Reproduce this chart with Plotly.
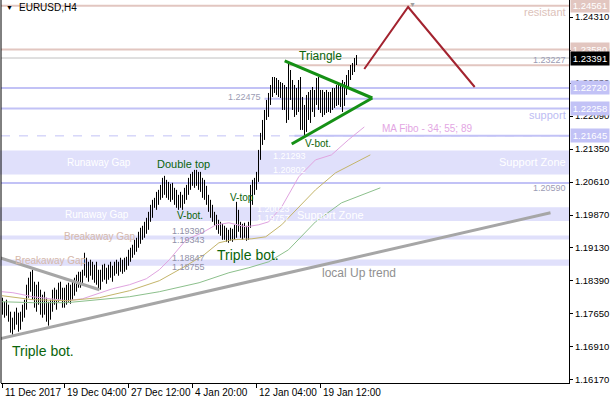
import plotly.graph_objects as go

# ---------------- data (EURUSD H4) ----------------
opens = [1.17858,1.17746,1.17858,1.17701,1.17567,1.17343,1.17477,1.17634,1.17522,1.17410,
1.17612,1.17746,1.17858,1.18194,1.18306,1.18418,1.18082,1.17970,1.18149,1.17970,
1.17746,1.17970,1.17791,1.17634,1.17746,1.17858,1.18082,1.17970,1.18060,1.18194,
1.18082,1.17970,1.18082,1.18194,1.18060,1.18194,1.18284,1.18373,1.18463,1.18373,
1.18508,1.18597,1.18821,1.18597,1.18687,1.18597,1.18530,1.18642,1.18418,1.18306,
1.18530,1.18642,1.18508,1.18597,1.18687,1.18552,1.18642,1.18732,1.18642,1.18754,
1.18687,1.18776,1.18821,1.18866,1.18978,1.19045,1.19135,1.19202,1.19269,1.19404,
1.19493,1.19538,1.19628,1.19717,1.19874,1.19986,1.20098,1.20210,1.20300,1.20344,
1.20479,1.20613,1.20434,1.20524,1.20322,1.20434,1.20300,1.20210,1.20120,1.20210,
1.20098,1.20255,1.20389,1.20434,1.20613,1.20703,1.20658,1.20748,1.20613,1.20703,
1.20479,1.20568,1.20322,1.20210,1.20031,1.19896,1.19807,1.19717,1.19628,1.19538,
1.19583,1.19426,1.19493,1.19359,1.19448,1.19381,1.19493,1.19426,1.19874,1.19583,
1.19493,1.19583,1.19448,1.19538,1.19650,1.20322,1.20546,1.20613,1.20703,1.21218,
1.21554,1.21890,1.22114,1.22338,1.22495,1.22674,1.22853,1.22719,1.22786,1.22629,
1.22764,1.22338,1.22629,1.22047,1.22898,1.22562,1.22450,1.22226,1.22562,1.22338,
1.22002,1.22226,1.21823,1.22450,1.22114,1.22495,1.22338,1.22562,1.22786,1.22338,
1.22562,1.22226,1.22495,1.22271,1.22540,1.22338,1.22562,1.22405,1.22629,1.22495,
1.22674,1.22450,1.22719,1.22898,1.23034,1.23122,1.23206,1.23301]
highs = [1.18015,1.17925,1.17970,1.17858,1.17701,1.17567,1.17701,1.17791,1.17679,1.17701,
1.17858,1.17970,1.18306,1.18463,1.18597,1.18642,1.18373,1.18306,1.18373,1.18194,
1.18082,1.18149,1.18015,1.17925,1.17970,1.18194,1.18239,1.18194,1.18351,1.18373,
1.18239,1.18239,1.18306,1.18351,1.18306,1.18373,1.18463,1.18530,1.18597,1.18597,
1.18642,1.19023,1.18911,1.18821,1.18866,1.18821,1.18754,1.18821,1.18642,1.18642,
1.18754,1.18776,1.18687,1.18754,1.18821,1.18732,1.18821,1.18866,1.18821,1.18911,
1.18866,1.18911,1.18933,1.19090,1.19135,1.19202,1.19314,1.19359,1.19493,1.19583,
1.19628,1.19717,1.19807,1.19941,1.20098,1.20210,1.20255,1.20389,1.20434,1.20546,
1.20703,1.20748,1.20658,1.20613,1.20568,1.20591,1.20479,1.20434,1.20322,1.20389,
1.20322,1.20479,1.20546,1.20703,1.20792,1.20837,1.20882,1.20882,1.20837,1.20837,
1.20703,1.20658,1.20524,1.20322,1.20210,1.20098,1.19941,1.19874,1.19762,1.19717,
1.19672,1.19628,1.19583,1.19538,1.19583,1.19560,1.19650,1.20165,1.19986,1.19717,
1.19672,1.19695,1.19628,1.19717,1.20546,1.20658,1.20703,1.20837,1.21330,1.21711,
1.22002,1.22226,1.22450,1.22607,1.22786,1.22965,1.22965,1.22943,1.22898,1.22853,
1.22831,1.22786,1.22741,1.23301,1.23122,1.22898,1.22786,1.22719,1.22898,1.22965,
1.22517,1.22338,1.22562,1.22629,1.22674,1.22741,1.22674,1.22943,1.22965,1.22674,
1.22674,1.22629,1.22674,1.22629,1.22629,1.22719,1.22719,1.22786,1.22831,1.22786,
1.22898,1.22853,1.23010,1.23122,1.23234,1.23279,1.23391,1.23458]
lows = [1.17634,1.17567,1.17612,1.17477,1.17231,1.17186,1.17298,1.17410,1.17253,1.17298,
1.17477,1.17567,1.17746,1.18015,1.18149,1.17970,1.17791,1.17701,1.17858,1.17634,
1.17567,1.17634,1.17477,1.17388,1.17522,1.17701,1.17858,1.17746,1.17925,1.17970,
1.17791,1.17791,1.17858,1.17925,1.17880,1.17970,1.18060,1.18149,1.18239,1.18239,
1.18328,1.18508,1.18463,1.18373,1.18508,1.18418,1.18351,1.18306,1.18194,1.18194,
1.18373,1.18418,1.18328,1.18418,1.18463,1.18373,1.18508,1.18552,1.18508,1.18597,
1.18552,1.18597,1.18642,1.18732,1.18821,1.18911,1.18978,1.19045,1.19135,1.19224,
1.19314,1.19359,1.19448,1.19538,1.19717,1.19807,1.20031,1.19986,1.20098,1.20210,
1.20255,1.20322,1.20255,1.20210,1.20165,1.20210,1.20098,1.20031,1.19986,1.20031,
1.19986,1.20120,1.20210,1.20322,1.20434,1.20524,1.20479,1.20524,1.20434,1.20389,
1.20255,1.20210,1.20098,1.19941,1.19807,1.19717,1.19628,1.19538,1.19448,1.19404,
1.19314,1.19314,1.19269,1.19247,1.19292,1.19269,1.19314,1.19359,1.19493,1.19359,
1.19314,1.19359,1.19292,1.19314,1.19583,1.20098,1.20322,1.20434,1.20613,1.21106,
1.21442,1.21554,1.22002,1.22069,1.22338,1.22517,1.22607,1.22562,1.22517,1.22495,
1.22226,1.22226,1.21935,1.22002,1.22450,1.22226,1.22069,1.22114,1.22181,1.21778,
1.21778,1.21666,1.21733,1.22002,1.21935,1.22181,1.22069,1.22338,1.22226,1.22159,
1.22069,1.22114,1.22159,1.22181,1.22159,1.22226,1.22271,1.22316,1.22338,1.22293,
1.22181,1.22316,1.22562,1.22741,1.22898,1.23010,1.23077,1.23234]
closes = [1.17746,1.17858,1.17701,1.17567,1.17343,1.17477,1.17634,1.17522,1.17410,1.17612,
1.17746,1.17858,1.18194,1.18306,1.18418,1.18082,1.17970,1.18149,1.17970,1.17746,
1.17970,1.17791,1.17634,1.17746,1.17858,1.18082,1.17970,1.18060,1.18194,1.18082,
1.17970,1.18082,1.18194,1.18060,1.18194,1.18284,1.18373,1.18463,1.18373,1.18508,
1.18597,1.18821,1.18597,1.18687,1.18597,1.18530,1.18642,1.18418,1.18306,1.18530,
1.18642,1.18508,1.18597,1.18687,1.18552,1.18642,1.18732,1.18642,1.18754,1.18687,
1.18776,1.18821,1.18866,1.18978,1.19045,1.19135,1.19202,1.19269,1.19404,1.19493,
1.19538,1.19628,1.19717,1.19874,1.19986,1.20098,1.20210,1.20300,1.20344,1.20479,
1.20613,1.20434,1.20524,1.20322,1.20434,1.20300,1.20210,1.20120,1.20210,1.20098,
1.20255,1.20389,1.20434,1.20613,1.20703,1.20658,1.20748,1.20613,1.20703,1.20479,
1.20568,1.20322,1.20210,1.20031,1.19896,1.19807,1.19717,1.19628,1.19538,1.19583,
1.19426,1.19493,1.19359,1.19448,1.19381,1.19493,1.19426,1.19874,1.19583,1.19493,
1.19583,1.19448,1.19538,1.19650,1.20322,1.20546,1.20613,1.20703,1.21218,1.21554,
1.21890,1.22114,1.22338,1.22495,1.22674,1.22853,1.22719,1.22786,1.22629,1.22764,
1.22338,1.22629,1.22047,1.22898,1.22562,1.22450,1.22226,1.22562,1.22338,1.22002,
1.22226,1.21823,1.22450,1.22114,1.22495,1.22338,1.22562,1.22786,1.22338,1.22562,
1.22226,1.22495,1.22271,1.22540,1.22338,1.22562,1.22405,1.22629,1.22495,1.22674,
1.22450,1.22719,1.22898,1.23034,1.23122,1.23206,1.23301,1.23391]
bar_index = list(range(len(closes)))

# date labels (bar index of each label)
date_ticks = [0, 31, 63, 95, 127, 159]
date_labels = ["11 Dec 2017", "19 Dec 04:00", "27 Dec 12:00", "4 Jan 20:00", "12 Jan 04:00", "19 Jan 12:00"]

# price axis
price_ticks = [1.16170, 1.16910, 1.17650, 1.18390, 1.19130, 1.19870, 1.20610,
               1.21350, 1.22090, 1.22830, 1.23570, 1.24310]

# moving averages (34, 55, 89): bar index / price
ma34_x = [-0.25, 5.2, 15.2, 20.2, 32.1, 40.1, 48.5, 55.0, 63.5, 71.9, 78.4, 83.4, 91.8, 99.8,
          106.8, 113.2, 121.7, 128.1, 133.1, 139.6, 148.1, 156.5, 164.5, 172.9, 180.9]
ma34_y = [1.18149, 1.18127, 1.18037, 1.18015, 1.17948, 1.17992, 1.18127, 1.18216, 1.18306, 1.18440,
          1.18642, 1.18866, 1.19314, 1.19471, 1.19650, 1.19695, 1.19605, 1.19650, 1.19717, 1.20053,
          1.20725, 1.21106, 1.21218, 1.21554, 1.21845]
ma55_x = [-0.25, 15.2, 32.1, 48.5, 63.5, 78.4, 91.8, 100.8, 108.2, 114.7, 124.7, 131.6, 139.6,
          148.1, 156.5, 166.5, 183.9]
ma55_y = [1.18060, 1.17970, 1.17948, 1.18015, 1.18172, 1.18396, 1.18732, 1.18978, 1.19247, 1.19314,
          1.19336, 1.19381, 1.19650, 1.20053, 1.20434, 1.20815, 1.21218]
ma89_x = [-0.25, 15.2, 32.1, 48.5, 63.5, 78.4, 98.3, 113.2, 123.2, 133.1, 143.0, 156.5, 169.5, 188.9]
ma89_y = [1.17925, 1.17903, 1.17903, 1.17970, 1.18037, 1.18149, 1.18351, 1.18575, 1.18687, 1.18821,
          1.19090, 1.19717, 1.20143, 1.20479]

# horizontal levels
resist_levels = [1.24561, 1.23580]
support_levels = [1.22720, 1.22258, 1.20590]
bid_price = 1.23391
fibo_level = 1.21645
tri_high_level = 1.23227
tri_mid_level = 1.22475
zones = [(1.21293, 1.20802), (1.20023, 1.19757), (1.19390, 1.19343), (1.18847, 1.18755)]

# trend lines (bar index, price)
uptrend = [(-1.24, 1.17096), (274.0, 1.19919)]
downtrend = [(-1.24, 1.18911), (48.5, 1.18194)]
tri_upper = [(141.1, 1.23324), (184.9, 1.22494)]
tri_lower = [(144.6, 1.21463), (184.9, 1.22494)]
zigzag_x = [180.9, 202.8, 236.1]
zigzag_y = [1.23145, 1.24535, 1.22741]

# ---------------- figure ----------------
FONT = "Liberation Sans, Arial, sans-serif"
PINK = "#e2c6c0"
BLUE = "#c2c2f6"
ZONE = "#e0e0fb"
GREEN_TXT = "#0b650b"

fig = go.Figure()

fig.add_trace(go.Ohlc(
    x=bar_index, open=opens, high=highs, low=lows, close=closes,
    increasing=dict(line=dict(color="black", width=1)),
    decreasing=dict(line=dict(color="black", width=1)),
    tickwidth=0.12, hoverinfo="skip", showlegend=False))

for xs, ys, col in [(ma34_x, ma34_y, "#e0a4e0"), (ma55_x, ma55_y, "#c4b56a"), (ma89_x, ma89_y, "#8cc08c")]:
    fig.add_trace(go.Scatter(x=xs, y=ys, mode="lines", line=dict(color=col, width=1),
                             hoverinfo="skip", showlegend=False))

fig.add_trace(go.Scatter(x=zigzag_x, y=zigzag_y, mode="lines", line=dict(color="#a3232f", width=2),
                         hoverinfo="skip", showlegend=False))
for seg in (tri_upper, tri_lower):
    fig.add_trace(go.Scatter(x=[seg[0][0], seg[1][0]], y=[seg[0][1], seg[1][1]], mode="lines",
                             line=dict(color="#159015", width=3), hoverinfo="skip", showlegend=False))

shapes = []
for top, bot in zones:
    shapes.append(dict(type="rect", xref="paper", x0=0, x1=1, yref="y", y0=bot, y1=top,
                       fillcolor=ZONE, line=dict(color=ZONE, width=2), layer="below"))
for lv in resist_levels:
    shapes.append(dict(type="line", xref="paper", x0=0, x1=1, yref="y", y0=lv, y1=lv,
                       line=dict(color=PINK, width=2), layer="below"))
shapes.append(dict(type="line", xref="x", x0=143, x1=290, yref="y", y0=tri_high_level, y1=tri_high_level,
                   line=dict(color=PINK, width=2), layer="below"))
for lv in support_levels:
    shapes.append(dict(type="line", xref="paper", x0=0, x1=1, yref="y", y0=lv, y1=lv,
                       line=dict(color=BLUE, width=2), layer="below"))
shapes.append(dict(type="line", xref="x", x0=131, x1=290, yref="y", y0=tri_mid_level, y1=tri_mid_level,
                   line=dict(color=BLUE, width=2), layer="below"))
shapes.append(dict(type="line", xref="paper", x0=0, x1=1, yref="y", y0=fibo_level, y1=fibo_level,
                   line=dict(color=BLUE, width=1, dash="dash"), layer="below"))
shapes.append(dict(type="line", xref="x", x0=146, x1=290, yref="y", y0=fibo_level, y1=fibo_level,
                   line=dict(color=BLUE, width=2), layer="below"))
shapes.append(dict(type="line", xref="paper", x0=0, x1=1, yref="y", y0=bid_price, y1=bid_price,
                   line=dict(color="#c0c0c0", width=1), layer="below"))
for seg, w in ((uptrend, 3), (downtrend, 3)):
    shapes.append(dict(type="line", xref="x", yref="y", x0=seg[0][0], y0=seg[0][1], x1=seg[1][0], y1=seg[1][1],
                       line=dict(color="#a6a6a6", width=w), layer="above"))
# left frame line
shapes.append(dict(type="line", xref="paper", yref="paper", x0=0, x1=0, y0=0, y1=1,
                   line=dict(color="black", width=1)))

W, H, ML, MB = 610, 400, 1, 17
PW, PH = W - ML - 41, H - MB


def px(x):
    return (x - ML) / PW


def py(y):
    return (PH - y) / PH


ann = []


def txt(t, x, y, color, size, anchor="left", family=FONT):
    ann.append(dict(text=t, x=px(x), y=py(y), xref="paper", yref="paper", xanchor=anchor,
                    yanchor="middle", showarrow=False, font=dict(family=family, size=size, color=color)))


txt("EURUSD,H4", 17, 8, "black", 10)
txt("▼", 4, 8, "black", 7)
txt("▼", 407, 4, "#a0a0a0", 7)
txt("resistant", 568, 12, "#dcc2ba", 11, "right")
txt("1.23227", 568, 60, "#9c9cb4", 9, "right")
txt("support", 568, 115, "#bdbdf3", 11, "right")
txt("1.22475", 263, 97, "#9c9cb4", 9, "right")
txt("MA Fibo - 34; 55; 89", 380, 128, "#e3a6e3", 10)
txt("Support Zone", 568, 162, "white", 11, "right")
txt("Runaway Gap", 65, 162, "white", 10)
txt("1.21293", 271, 156, "white", 9)
txt("1.20802", 271, 170, "white", 9)
txt("1.20590", 568, 188, "#9c9cb4", 9, "right")
txt("Runaway Gap", 63, 214, "white", 10)
txt("1.20023", 255, 209, "white", 9)
txt("1.19757", 255, 218, "white", 9)
txt("Support Zone", 295, 215, "white", 11)
txt("Breakaway Gap", 62, 236, "#d6b8aa", 10)
txt("Breakaway Gap", 13, 260, "#d6b8aa", 10)
txt("1.19390", 170, 231, "#9090a8", 9)
txt("1.19343", 170, 240, "#9090a8", 9)
txt("1.18847", 170, 258, "#9090a8", 9)
txt("1.18755", 170, 267, "#9090a8", 9)
txt("local Up trend", 320, 273, "#909090", 12)
txt("Triangle", 297, 56, GREEN_TXT, 12)
txt("Double top", 155, 164, GREEN_TXT, 11)
txt("V-bot.", 175, 216, GREEN_TXT, 10)
txt("V-top", 228, 198, GREEN_TXT, 10)
txt("V-bot.", 303, 143, GREEN_TXT, 10)
txt("Triple bot.", 215, 255, GREEN_TXT, 14)
txt("Triple bot.", 10, 351, GREEN_TXT, 14)

# date labels, left-aligned at their ticks
for t, lab in zip(date_ticks, date_labels):
    ann.append(dict(text=lab, x=t, xref="x", y=0, yref="paper", xanchor="left", yanchor="top",
                    xshift=0, yshift=-2, showarrow=False, font=dict(family=FONT, size=10, color="black")))

# highlighted price labels on the right scale
for lv, bg in [(1.24561, PINK), (1.23580, PINK), (1.22720, BLUE), (1.22258, BLUE),
               (1.21645, BLUE), (bid_price, "black")]:
    ann.append(dict(text=f"{lv:.5f}", x=1, xref="paper", y=lv, yref="y", xanchor="left",
                    yanchor="middle", xshift=1, showarrow=False, bgcolor=bg, borderpad=1, width=36,
                    font=dict(family=FONT, size=9.5, color="white")))

fig.update_layout(
    width=W, height=H, margin=dict(l=ML, r=41, t=0, b=MB, autoexpand=False),
    paper_bgcolor="white", plot_bgcolor="white", showlegend=False,
    shapes=shapes, annotations=ann,
    xaxis=dict(range=[-0.75, 283.25], showgrid=False, zeroline=False, showline=True,
               linecolor="black", linewidth=1, ticks="outside", ticklen=4, tickcolor="black",
               tickvals=date_ticks, showticklabels=False, rangeslider=dict(visible=False)),
    yaxis=dict(range=[1.16102, 1.24692], side="right", showgrid=False, zeroline=False,
               showline=True, linecolor="black", linewidth=1, ticks="outside", ticklen=3,
               tickcolor="black", tickvals=price_ticks, ticktext=[f"{v:.5f}" for v in price_ticks],
               tickfont=dict(family=FONT, size=9.5, color="black")),
)

fig.write_html("out.html", config={"displayModeBar": False},
               post_script="document.body.style.margin='0';document.body.style.overflow='hidden';")
